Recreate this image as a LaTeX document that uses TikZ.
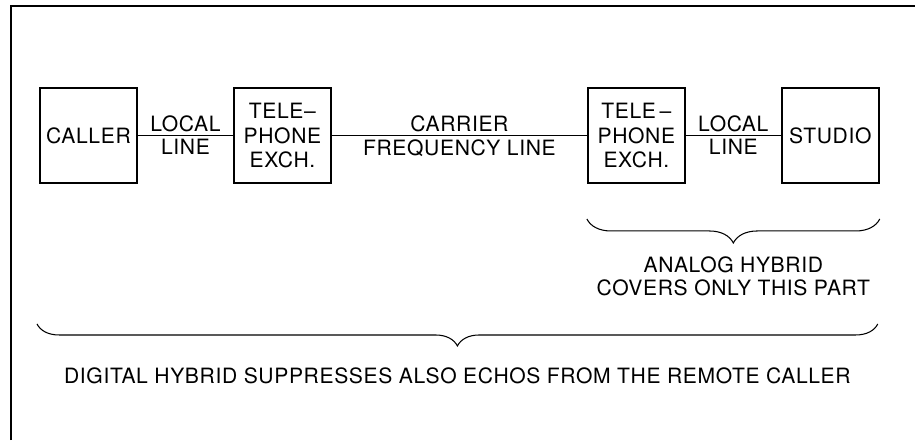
\documentclass[tikz,border=0pt]{standalone}
\usepackage{fontspec}
\setmainfont{TeX Gyre Heros}[LetterSpace=3]
\usetikzlibrary{positioning, decorations.pathreplacing}
\tikzset{unit/.style={rectangle,draw,line width=1.1pt,align=center,minimum width=19.4mm,minimum height=19mm,inner sep=2pt,font=\fontsize{12}{14.2}\selectfont},wire/.style={line width=0.55pt},lbl/.style={inner sep=2pt,font=\fontsize{12}{14}\selectfont},span/.style={decorate,decoration={brace,mirror,amplitude=#1},line width=0.6pt},note/.style={align=center,inner sep=2pt,font=\fontsize{12}{13}\selectfont}}

\begin{document}
\begin{tikzpicture}
\useasboundingbox (0,0) rectangle (18.3,-8.8);
\draw[line width=0.75pt] (0.22,-8.8) |- (18.3,-0.12);
\node[unit] (caller) at (1.77,-2.71) {CALLER};
\node[unit, right=19mm of caller] (exch1) {TELE--\\PHONE\\EXCH.};
\node[unit, right=51mm of exch1] (exch2) {TELE\,--\\PHONE\\EXCH.};
\node[unit, right=19mm of exch2] (studio) {STUDIO};
\draw[wire] (caller) -- node[lbl, above] (loc1) {LOCAL} node[lbl, below] (lin1) {LINE} (exch1);
\draw[wire] (exch1) -- node[lbl, above] (carr) {CARRIER} node[lbl, below] (freq) {FREQUENCY LINE} (exch2);
\draw[wire] (exch2) -- node[lbl, above] (loc2) {LOCAL} node[lbl, below] (lin2) {LINE} (studio);
% braces under the chain
\coordinate (a1) at ([yshift=-7mm]exch2.south west);
\coordinate (a2) at ([yshift=-7mm]studio.south east);
\coordinate (b1) at ([xshift=-0.4mm,yshift=-28mm]caller.south west);
\coordinate (b2) at ([xshift=-0.4mm,yshift=-28mm]studio.south east);
\draw[span=4.8mm] (a1) -- node[note, below=6.7mm] (analog) {ANALOG HYBRID\\COVERS ONLY THIS PART} (a2);
\draw[span=4.4mm] (b1) -- node[note, below=7.9mm] (digital) {DIGITAL HYBRID SUPPRESSES ALSO ECHOS FROM THE REMOTE CALLER} (b2);
\end{tikzpicture}
\end{document}
